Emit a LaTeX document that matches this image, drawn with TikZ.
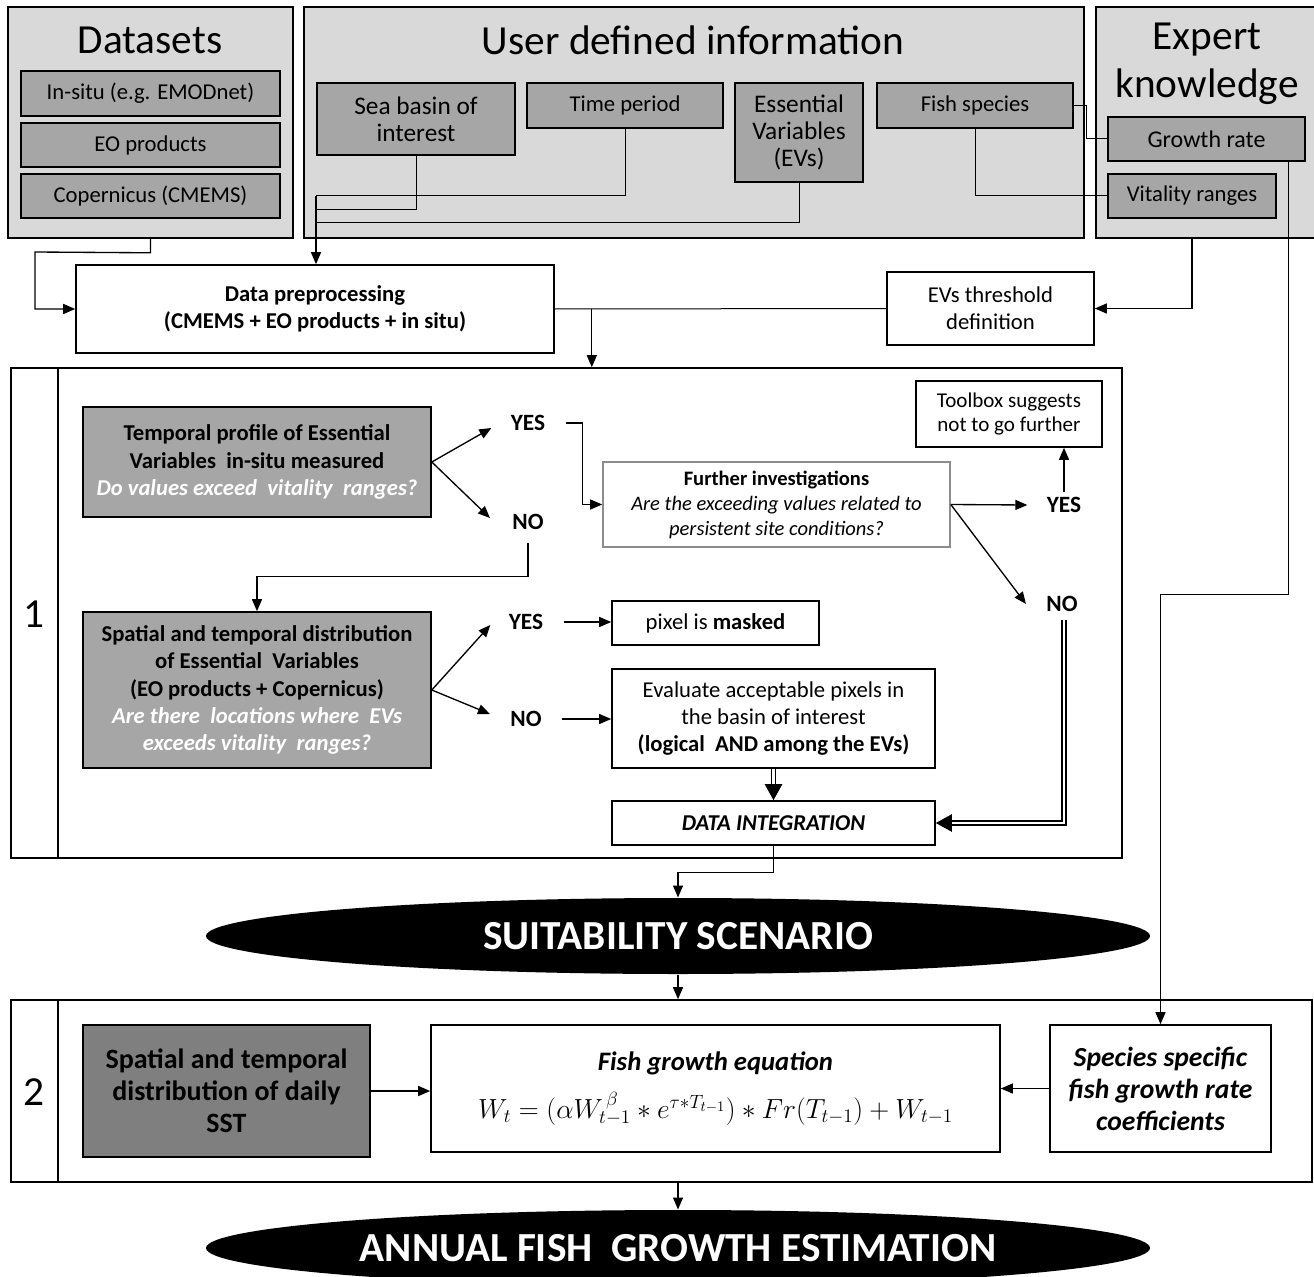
\documentclass[tikz,border=0pt]{standalone}
\usepackage{fontspec}
\setmainfont{Carlito}
\usetikzlibrary{arrows.meta,shapes.geometric,calc}

\definecolor{panelgray}{HTML}{D9D9D9}
\definecolor{itemgray}{HTML}{A6A6A6}
\definecolor{sstgray}{HTML}{7F7F7F}
\definecolor{edgegray}{HTML}{8C8C8C}

\newcommand{\askq}[1]{{\color{white}\itshape #1}}

\tikzset{every picture/.style={line width=0.75pt},
  sz/.style 2 args={minimum width=#1*0.75pt, minimum height=#2*0.75pt},
  panel/.style={draw, fill=panelgray, line width=1.2pt, inner sep=0pt},
  item/.style={draw, fill=itemgray, line width=1.2pt, inner sep=0pt, align=center, font=\fontsize{17}{20}\selectfont},
  wbox/.style={draw, fill=white, line width=1.2pt, inner sep=0pt, align=center, font=\fontsize{17}{20.5}\selectfont},
  qbox/.style={draw, fill=itemgray, line width=1.2pt, inner sep=0pt, align=center, font=\bfseries\fontsize{17}{20.6}\selectfont},
  ttl/.style={inner sep=0pt, align=center, font=\fontsize{31}{36}\selectfont},
  yn/.style={inner sep=0pt, font=\bfseries\fontsize{17.5}{20}\selectfont},
  blob/.style={ellipse, fill=black, inner sep=0pt, text=white, font=\bfseries\fontsize{31}{36}\selectfont},
  arr/.style={-{Triangle[length=9pt,width=7.5pt]}, line width=1pt},
  dbl/.style={double, double distance=2.2pt, line width=0.9pt, -{Triangle[length=12pt,width=13pt]}}
}

\begin{document}
\begin{tikzpicture}[x=0.75pt,y=0.75pt,yscale=-1,xscale=1]
\useasboundingbox (0,0) rectangle (1314,1277);

%% input panels
\node[panel, sz={285}{231}] (datasets) at (150.5,122.5) {};
\node[ttl] (datasetsttl) at (150,40) {Datasets};
\node[item, sz={259}{45}] (insitu) at (150.5,93.5) {In-situ (e.g. EMODnet)};
\node[item, sz={259}{44}] (eoprod) at (150.5,145) {EO products};
\node[item, sz={259}{44}] (cmems) at (150.5,196) {Copernicus (CMEMS)};

\node[panel, sz={780}{231}] (user) at (694,122.5) {};
\node[ttl] (userttl) at (693,40) {User defined information};
\node[item, sz={198}{72}, font=\fontsize{19}{20.5}\selectfont] (seabasin) at (416,119) {Sea basin of\\interest};
\node[item, sz={196}{45}] (timeper) at (625,105.5) {Time period};
\node[item, sz={128}{99}, font=\fontsize{19}{20}\selectfont] (essvar) at (799,132.5) {Essential\\Variables\\(EVs)};
\node[item, sz={196}{45}] (fishsp) at (975,105.5) {Fish species};

\node[panel, sz={234}{231}] (expert) at (1213,122.5) {};
\node[ttl] (expertttl) at (1207,64) {Expert\\knowledge};
\node[item, sz={197}{44}, font=\fontsize{18}{20}\selectfont] (growth) at (1206.5,139) {Growth rate};
\node[item, sz={168}{44}] (vitality) at (1192,196) {Vitality ranges};

%% preprocessing
\node[wbox, sz={478}{88}, font=\bfseries\fontsize{17}{20}\selectfont] (prep) at (315,309) {Data preprocessing\\(CMEMS + EO products + in situ)};
\node[wbox, sz={207}{73}] (thresh) at (990.5,308.5) {EVs threshold\\definition};

%% step 1
\node[draw, line width=1.2pt, sz={1111}{490}] (box1) at (566.5,613) {};
\coordinate (sep1) at (58,368);
\draw[line width=1.2pt] (sep1) -- (sep1 |- box1.south);
\node[ttl] (one) at (34,614) {1};

\node[qbox, sz={348}{110}] (temporal) at (257,462) {Temporal profile of Essential\\Variables\ \ in-situ measured\\\askq{Do values exceed\ \ vitality\ \ ranges?}};
\node[yn] (yes1) at (528,423) {YES};
\node[yn] (no1) at (528,522) {NO};
\node[wbox, draw=edgegray, sz={347}{85}, font=\fontsize{15.4}{18.75}\selectfont] (further) at (776.5,504.5) {\textbf{Further investigations}\\\textit{Are the exceeding values related to}\\\textit{persistent site conditions?}};
\node[yn] (yes2) at (1064,505) {YES};
\node[yn] (no2) at (1062,604) {NO};
\node[wbox, sz={186}{66}, font=\fontsize{15.8}{18}\selectfont] (toolbox) at (1009,414) {Toolbox suggests\\not to go further};

\node[qbox, sz={348}{156}] (spatial) at (257,690) {Spatial and temporal distribution\\of Essential\ \ Variables\\(EO products + Copernicus)\\\askq{Are there\ \ locations where\ \ EVs}\\\askq{exceeds vitality\ \ ranges?}};
\node[yn] (yes3) at (526,622) {YES};
\node[yn] (no3) at (526,719) {NO};
\node[wbox, sz={207}{44}] (masked) at (715.5,623) {pixel is \textbf{masked}};
\node[wbox, sz={323}{99}] (evaluate) at (773.5,718.5) {Evaluate acceptable pixels in\\the basin of interest\\\textbf{(logical\ \ AND among the EVs)}};
\node[wbox, sz={323}{44}, font=\bfseries\itshape\fontsize{17}{20}\selectfont] (integ) at (773.5,823) {DATA INTEGRATION};

\node[blob, sz={944}{76}] (suit) at (678,936) {SUITABILITY SCENARIO};

%% step 2
\node[draw, line width=1.2pt, sz={1301}{182}] (box2) at (661.5,1091) {};
\coordinate (sep2) at (58,1000);
\draw[line width=1.2pt] (sep2) -- (sep2 |- box2.south);
\node[ttl] (two) at (34,1092) {2};

\node[draw, fill=sstgray, line width=1.2pt, sz={287}{132}, inner sep=0pt, align=center, font=\bfseries\fontsize{21}{24}\selectfont] (sst) at (226.5,1091) {Spatial and temporal\\distribution of daily\\SST};
\node[wbox, sz={569}{127}] (eqbox) at (715.5,1088.5) {{\bfseries\itshape\fontsize{20}{22}\selectfont Fish growth equation}\\[12pt]
  {\fontsize{21}{24}\selectfont $W_t=\bigl(\alpha W_{t-1}^{\,\beta} * e^{\tau * T_{t-1}}\bigr) * Fr(T_{t-1}) + W_{t-1}$}};
\node[wbox, sz={221}{127}, font=\bfseries\itshape\fontsize{20.7}{24}\selectfont] (species) at (1160.5,1088.5) {Species specific\\fish growth rate\\coefficients};

\node[blob, sz={944}{76}] (annual) at (678,1248) {ANNUAL FISH\ \ GROWTH ESTIMATION};

%% connectors: inputs
\draw[arr] (datasets.south) -- ++(0,14) -- (35,252) |- (prep.west);
\coordinate (ujoin) at (316,196);
\draw (seabasin.south) |- (316,210);
\draw (timeper.south) |- (ujoin);
\draw (essvar.south) |- (316,223);
\draw[arr] (ujoin) -- (ujoin |- prep.north);
\draw (fishsp.east) -- ++(13,0) |- (growth.west);
\draw (fishsp.south) |- (vitality.west);
\draw[arr] (vitality.south |- expert.south) |- (thresh.east);
\draw (prep.east) -- (thresh.west);
\coordinate (split) at ($(prep.east)+(37,0)$);
\draw[arr] (split) -- (split |- box1.north);
\draw[arr] ($(growth.south)+(82,0)$) -- ++(0,433) -| (species.north);

%% connectors: step 1
\draw[arr] (temporal.east) -- ($(yes1.west)+(-19,5)$);
\draw[arr] (temporal.east) -- ($(no1.west)+(-22,-4)$);
\draw[arr] (yes1.east) ++(20,0) -- ++(17,0) |- (further.west);
\draw[arr] (no1.south) ++(0,13) -- ++(0,33) -| (spatial.north);
\draw[arr] (further.east) -- ($(yes2.west)+(-19,0)$);
\draw[arr] (further.east) -- ($(no2.west)+(-20,0)$);
\draw[arr] (yes2.north) ++(0,-5) -- (yes2.north |- toolbox.south);
\draw[dbl] (no2.south) ++(2,8) |- (integ.east);
\draw[arr] (spatial.east) -- ($(yes3.west)+(-18,3)$);
\draw[arr] (spatial.east) -- ($(no3.west)+(-20,-5)$);
\draw[arr] (yes3.east) ++(20,0) -- (yes3.east -| masked.west);
\draw[arr] (no3.east) ++(20,0) -- (no3.east -| evaluate.west);
\draw[dbl] (evaluate.south) -- (integ.north);
\draw[arr] (integ.south) -- ++(0,27) -| (suit.north);
\draw[arr] (suit.south) -- (suit.south |- box2.north);

%% connectors: step 2
\draw[arr] (sst.east) -- (sst.east -| eqbox.west);
\draw[arr] (species.west) -- (eqbox.east);
\draw[arr] (annual.north |- box2.south) -- (annual.north);
\end{tikzpicture}
\end{document}
